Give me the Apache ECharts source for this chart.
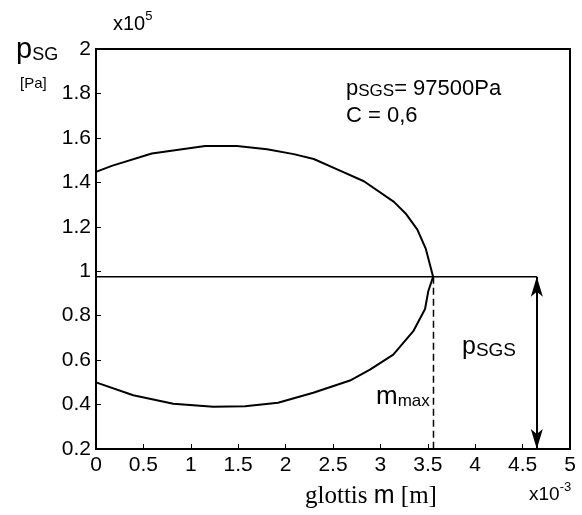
<!DOCTYPE html>
<html>
<head>
<meta charset="utf-8">
<script src="https://cdn.jsdelivr.net/npm/echarts@6/dist/echarts.min.js"></script>
<style>
html,body{margin:0;padding:0;background:#fff;}
#c{width:582px;height:515px;}
</style>
</head>
<body>
<div id="c"></div>
<script>
// glottis m in units of 1e-3 m, pressure pSG in units of 1e5 Pa
var upperM = [0, 0.166, 0.589, 1.152, 1.487, 1.804, 2.086, 2.297, 2.544, 2.826, 3.143, 3.266, 3.390, 3.478, 3.556];
var upperP = [1.447, 1.474, 1.530, 1.563, 1.563, 1.549, 1.527, 1.505, 1.458, 1.405, 1.312, 1.260, 1.187, 1.102, 0.975];
var lowerM = [3.556, 3.505, 3.471, 3.347, 3.136, 2.890, 2.679, 2.292, 1.920, 1.572, 1.237, 0.815, 0.393, 0];
var lowerP = [0.975, 0.910, 0.830, 0.730, 0.625, 0.557, 0.508, 0.453, 0.408, 0.392, 0.390, 0.404, 0.442, 0.500];
var pSGS = 0.975;      // 97500 Pa
var mMax = 3.56;
var arrowM = 4.65;
var xTicks = [0, 0.5, 1, 1.5, 2, 2.5, 3, 3.5, 4, 4.5, 5];
var yTicks = [0.2, 0.4, 0.6, 0.8, 1, 1.2, 1.4, 1.6, 1.8, 2];

var curve = [];
for (var i = 0; i < upperM.length; i++) curve.push([upperM[i], upperP[i]]);
for (var j = 1; j < lowerM.length; j++) curve.push([lowerM[j], lowerP[j]]);

var SANS = "'Liberation Sans', Arial, sans-serif";
var SERIF = "'Liberation Serif', 'Times New Roman', serif";
var fmt = function (v) { return String(parseFloat(v.toFixed(1))); };

var chart = echarts.init(document.getElementById('c'), null, {renderer: 'canvas'});
chart.setOption({
  animation: false,
  backgroundColor: '#fff',
  grid: {left: 96, right: 12, top: 49, bottom: 66, show: true, borderColor: '#000', borderWidth: 2, backgroundColor: 'transparent'},
  xAxis: {
    type: 'value', min: xTicks[0], max: xTicks[xTicks.length - 1], interval: 0.5,
    axisLine: {show: true, onZero: false, lineStyle: {color: '#000', width: 2}},
    axisTick: {show: true, inside: true, length: 5, lineStyle: {color: '#000', width: 1}},
    axisLabel: {color: '#000', fontSize: 21, fontFamily: SANS, margin: 6, formatter: fmt, showMinLabel: true, showMaxLabel: true},
    splitLine: {show: false}
  },
  yAxis: {
    type: 'value', min: yTicks[0], max: yTicks[yTicks.length - 1], interval: 0.2,
    axisLine: {show: true, onZero: false, lineStyle: {color: '#000', width: 2}},
    axisTick: {show: true, inside: true, length: 5, lineStyle: {color: '#000', width: 1}},
    axisLabel: {color: '#000', fontSize: 21, fontFamily: SANS, margin: 5, formatter: fmt, showMinLabel: true, showMaxLabel: true},
    splitLine: {show: false}
  },
  series: [
    {
      type: 'line', data: curve, symbol: 'none', smooth: false,
      lineStyle: {color: '#000', width: 2}, z: 5
    },
    {
      type: 'line', data: [[0, pSGS], [arrowM, pSGS]], symbol: 'none',
      lineStyle: {color: '#000', width: 1.5}, z: 4
    },
    {
      type: 'line', data: [[mMax, pSGS], [mMax, yTicks[0]]], symbol: 'none',
      lineStyle: {color: '#000', width: 1.5, type: [7, 4]}, z: 4
    },
    {
      type: 'line', data: [], symbol: 'none',
      markLine: {
        silent: true, symbol: ['arrow', 'arrow'], symbolSize: [9, 20],
        lineStyle: {color: '#000', width: 2, type: 'solid'},
        label: {show: false},
        data: [[{coord: [arrowM, pSGS]}, {coord: [arrowM, yTicks[0]]}]]
      }
    }
  ],
  graphic: [
    {type: 'text', left: 113, top: 10, style: {text: '{a|x10}{b|5}', rich: {
      a: {fontSize: 20, fontFamily: SANS, fill: '#000', verticalAlign: 'bottom', lineHeight: 24},
      b: {fontSize: 13, fontFamily: SANS, fill: '#000', verticalAlign: 'top', lineHeight: 24}}}},
    {type: 'text', left: 16, top: 35, style: {text: '{a|p}{b|SG}', rich: {
      a: {fontSize: 29, fontFamily: SANS, fill: '#000', verticalAlign: 'bottom', lineHeight: 32},
      b: {fontSize: 18, fontFamily: SANS, fill: '#000', verticalAlign: 'bottom', lineHeight: 32}}}},
    {type: 'text', left: 20, top: 76, style: {text: '[Pa]', font: '15px ' + SANS, fill: '#000'}},
    {type: 'text', left: 346, top: 78, style: {text: '{a|p}{b|SGS}{a|= 97500Pa}', rich: {
      a: {fontSize: 22, fontFamily: SANS, fill: '#000', verticalAlign: 'bottom', lineHeight: 26},
      b: {fontSize: 17, fontFamily: SANS, fill: '#000', verticalAlign: 'bottom', lineHeight: 26}}}},
    {type: 'text', left: 346, top: 105, style: {text: 'C = 0,6', font: '22px ' + SANS, fill: '#000'}},
    {type: 'text', left: 462, top: 335, style: {text: '{a|p}{b|SGS}', rich: {
      a: {fontSize: 25, fontFamily: SANS, fill: '#000', verticalAlign: 'bottom', lineHeight: 29},
      b: {fontSize: 19, fontFamily: SANS, fill: '#000', verticalAlign: 'bottom', lineHeight: 29}}}},
    {type: 'text', left: 376, top: 384, style: {text: '{a|m}{b|max}', rich: {
      a: {fontSize: 26, fontFamily: SANS, fill: '#000', verticalAlign: 'bottom', lineHeight: 29},
      b: {fontSize: 17, fontFamily: SANS, fill: '#000', verticalAlign: 'bottom', lineHeight: 29}}}},
    {type: 'text', left: 305, top: 484, style: {text: '{s|glottis }{m|m}{s| [m]}', rich: {
      s: {fontSize: 25, fontFamily: SERIF, fill: '#000', verticalAlign: 'bottom', lineHeight: 29},
      m: {fontSize: 25, fontFamily: SANS, fill: '#000', verticalAlign: 'bottom', lineHeight: 29}}}},
    {type: 'text', left: 529, top: 481, style: {text: '{a|x10}{b|-3}', rich: {
      a: {fontSize: 19, fontFamily: SANS, fill: '#000', verticalAlign: 'bottom', lineHeight: 23},
      b: {fontSize: 13, fontFamily: SANS, fill: '#000', verticalAlign: 'top', lineHeight: 23}}}}
  ]
});
</script>
</body>
</html>
